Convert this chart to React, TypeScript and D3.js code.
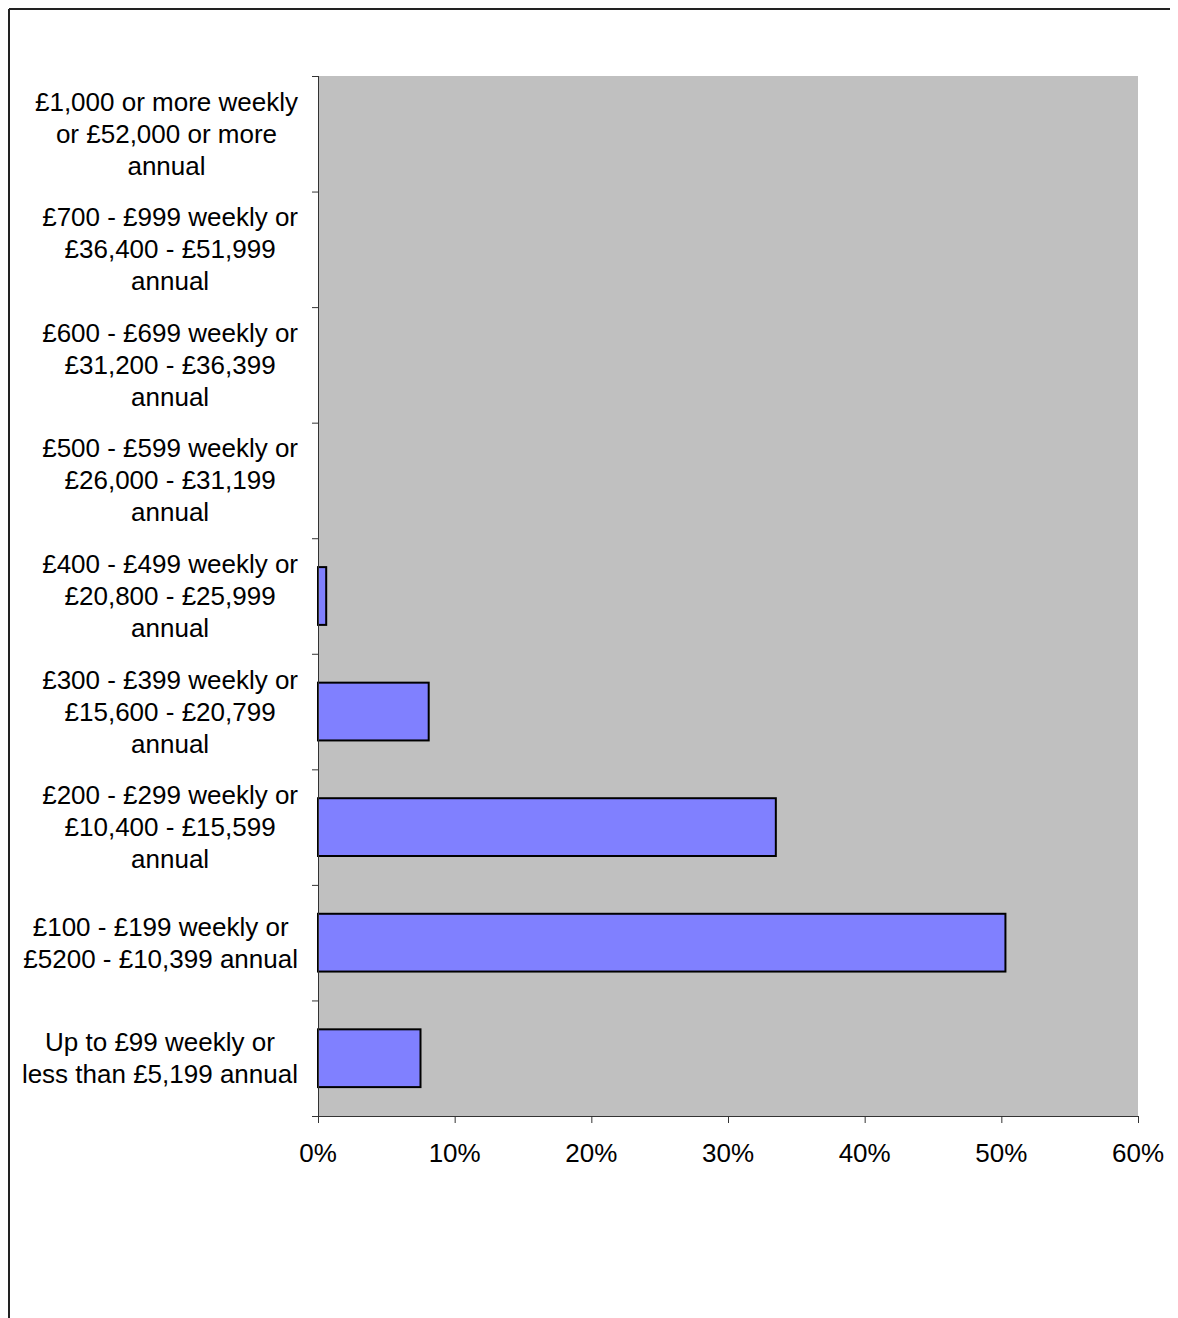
import React from "react";
import * as d3 from "d3";

const categories: string[][] = [
  ["£1,000 or more weekly", "or £52,000 or more", "annual"],
  ["£700 - £999 weekly or", "£36,400 - £51,999", "annual"],
  ["£600 - £699 weekly or", "£31,200 - £36,399", "annual"],
  ["£500 - £599 weekly or", "£26,000 - £31,199", "annual"],
  ["£400 - £499 weekly or", "£20,800 - £25,999", "annual"],
  ["£300 - £399 weekly or", "£15,600 - £20,799", "annual"],
  ["£200 - £299 weekly or", "£10,400 - £15,599", "annual"],
  ["£100 - £199 weekly or", "£5200 - £10,399 annual"],
  ["Up to £99 weekly or", "less than £5,199 annual"],
];
const values: number[] = [0, 0, 0, 0, 0.6, 8.1, 33.5, 50.3, 7.5];
const xTicks: number[] = [0, 10, 20, 30, 40, 50, 60];

const FONT = "Liberation Sans, Arial, Helvetica, sans-serif";
const FS = 26;

let ctx: CanvasRenderingContext2D | null = null;
function measure(t: string): number {
  if (!ctx) {
    const c = document.createElement("canvas");
    ctx = c.getContext("2d");
  }
  if (!ctx) return t.length * FS * 0.5;
  ctx.font = `${FS}px "Liberation Sans", Arial, sans-serif`;
  return ctx.measureText(t).width;
}

export default function App() {
  const W = 1200;
  const H = 1310;
  const left = 310, right = 1130, top = 68, bottom = 1108;
  const x = d3.scaleLinear().domain([0, 60]).range([left, right]);
  const idx = categories.map((_, i) => String(i));
  const y = d3.scaleBand<string>().domain(idx).range([top, bottom]).paddingInner(0.5).paddingOuter(0.25);
  const step = y.step();
  const labelRight = 290;
  const lineH = 32;

  return (
    <>
      <style>{"html,body{overflow:hidden}"}</style>
      <svg width={W} height={H} style={{ display: "block", fontFamily: FONT }}>
        <rect x={0} y={0} width={W} height={H} fill="#fff" />
        <line x1={1} y1={1} x2={W} y2={1} stroke="#222" strokeWidth={2} />
        <line x1={1} y1={1} x2={1} y2={H} stroke="#222" strokeWidth={2} />
        <rect x={left} y={top} width={right - left} height={bottom - top} fill="#C0C0C0" />
        {values.map((v, i) => (
          <rect
            key={i}
            x={x(0)}
            y={y(String(i))!}
            width={Math.max(0, x(v) - x(0))}
            height={y.bandwidth()}
            fill={v > 0 ? "#8080FF" : "none"}
            stroke={v > 0 ? "#000" : "none"}
            strokeWidth={2}
          />
        ))}
        <line x1={left + 0.5} y1={top} x2={left + 0.5} y2={bottom} stroke="#333" strokeWidth={1} />
        <line x1={left} y1={bottom + 0.5} x2={right} y2={bottom + 0.5} stroke="#333" strokeWidth={1} />
        {d3.range(categories.length + 1).map((i) => (
          <line key={"yt" + i} x1={left - 6} x2={left} y1={top + i * step + 0.5} y2={top + i * step + 0.5} stroke="#333" />
        ))}
        {xTicks.map((t) => (
          <g key={"xt" + t}>
            <line x1={x(t) + 0.5} x2={x(t) + 0.5} y1={bottom} y2={bottom + 7} stroke="#333" />
            <text x={x(t)} y={bottom + 46} textAnchor="middle" fontSize={FS} fill="#000">
              {t}%
            </text>
          </g>
        ))}
        {categories.map((lines, i) => {
          const cy = y(String(i))! + y.bandwidth() / 2;
          const maxW = Math.max(...lines.map(measure));
          const cx = labelRight - maxW / 2;
          const n = lines.length;
          return (
            <text key={"lab" + i} textAnchor="middle" fontSize={FS} fill="#000">
              {lines.map((ln, j) => (
                <tspan key={j} x={cx} y={cy + (j - (n - 1) / 2) * lineH + 9}>
                  {ln}
                </tspan>
              ))}
            </text>
          );
        })}
      </svg>
    </>
  );
}
